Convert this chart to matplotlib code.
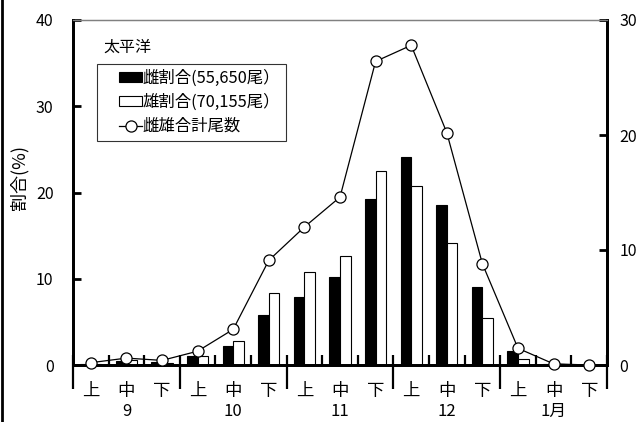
import matplotlib
matplotlib.use("Agg")
import matplotlib.pyplot as plt
from matplotlib.lines import Line2D
from matplotlib.patches import Rectangle
from matplotlib.legend_handler import HandlerPatch, HandlerLine2D
from matplotlib.ticker import FixedLocator
import numpy as np

plt.rcParams['font.family'] = ['Noto Sans CJK JP', 'DejaVu Sans']

# data
periods = ["上", "中", "下"] * 5
months = ["9", "10", "11", "12", "1月"]
female_pct = [0.1, 0.5, 0.3, 1.0, 2.2, 5.8, 7.9, 10.2, 19.2, 24.1, 18.6, 9.1, 1.6, 0.1, 0.0]
male_pct = [0.1, 0.6, 0.2, 1.0, 2.8, 8.4, 10.8, 12.6, 22.5, 20.7, 14.2, 5.4, 0.7, 0.1, 0.0]
total_count = [0.2, 0.6, 0.4, 1.2, 3.1, 9.1, 12.0, 14.6, 26.4, 27.8, 20.2, 8.8, 1.45, 0.1, 0.0]
female_label = "雌割合(55,650尾）"
male_label = "雄割合(70,155尾）"
total_label = "雌雄合計尾数"

fig = plt.figure(figsize=(6.43, 4.22), dpi=100)
ax = fig.add_axes([73/643, 1-365/422, 534/643, 345/422])
ax2 = ax.twinx()

n = len(periods)
x = np.arange(n) + 0.5
w = 0.3

ax.bar(x - w/2, female_pct, width=w, color="black", edgecolor="black", lw=0.8, zorder=2)
ax.bar(x + w/2, male_pct, width=w, color="white", edgecolor="black", lw=0.8, zorder=2)
line, = ax2.plot(x, total_count, color="black", lw=0.9, marker="o", ms=8, mfc="white", mec="black",
                 mew=0.9, clip_on=False, zorder=3)

ax.set_xlim(0, n)
ax.set_ylim(0, 40)
ax2.set_ylim(0, 30)

ax.set_yticks([0, 10, 20, 30, 40])
ax2.set_yticks([0, 10, 20, 30])
ax.tick_params(axis="y", direction="in", length=6, width=2, labelsize=11.5, pad=14)
ax2.tick_params(axis="y", direction="in", length=6, width=2, labelsize=11.5, pad=9)

# x ticks: upward at every boundary, downward at month boundaries
ax.xaxis.set_major_locator(FixedLocator([0, 3, 6, 9, 12, 15]))
ax.xaxis.set_minor_locator(FixedLocator(list(range(0, 16))))
ax.xaxis.remove_overlapping_locs = False
ax.tick_params(axis="x", which="major", direction="out", length=17, width=1.6, labelbottom=False)
ax.tick_params(axis="x", which="minor", direction="in", length=7, width=1.6)

for a in (ax, ax2):
    a.spines["top"].set_color("#808080")
    a.spines["top"].set_linewidth(0.9)
    a.spines["left"].set_linewidth(2)
    a.spines["right"].set_linewidth(2)
    a.spines["bottom"].set_linewidth(2)

tr = ax.get_xaxis_transform()
for i, p in enumerate(periods):
    ax.text(x[i], -0.0754, p, transform=tr, ha="center", va="center", fontsize=12.5)
for j, m in enumerate(months):
    ax.text(3*j + 1.5, -0.136, m, transform=tr, ha="center", va="center", fontsize=12)

fig.text(19/643, 1-178/422, "割合(%)", fontsize=13, rotation=90, ha="center", va="center")

fig.text(103/643, 1-47/422, "太平洋", fontsize=11.5, ha="left", va="center")

h_f = Rectangle((0, 0), 1, 1, facecolor="black", edgecolor="black", lw=0.8)
h_m = Rectangle((0, 0), 1, 1, facecolor="white", edgecolor="black", lw=0.8)
hmap = {Rectangle: HandlerPatch(xpad=1.0), Line2D: HandlerLine2D(xpad=1.0)}
leg = ax.legend([h_f, h_m, line], [female_label, male_label, total_label],
                handler_map=hmap, loc="upper left", bbox_to_anchor=(24/534, 1-44/345),
                fontsize=11.8, frameon=True, fancybox=False, edgecolor="black",
                handlelength=2.4, handleheight=0.55, handletextpad=0.05, labelspacing=0.42,
                borderpad=0.35, borderaxespad=0)
leg.get_frame().set_linewidth(0.8)

fig.add_artist(Line2D([2/643, 2/643], [0, 1], transform=fig.transFigure, color="black", lw=2))

fig.savefig("out.png", dpi=100)
